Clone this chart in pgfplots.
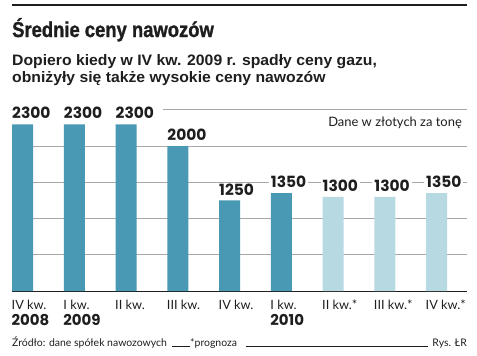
\documentclass[border=0pt]{standalone}
\usepackage{fontspec}
\usepackage{pgfplots}
\pgfplotsset{compat=1.18}
\setmainfont{Lato}
\newfontfamily\titlefont{Liberation Sans}[UprightFont={* Bold}, FakeStretch=0.86, FakeBold=1.2]
\newfontfamily\subfont{Liberation Sans}[UprightFont={* Bold}, FakeStretch=1.04]
\newfontfamily\numfont{Poppins}[UprightFont={* Bold}]
\definecolor{dark}{HTML}{4A99B4}
\definecolor{light}{HTML}{B7D9E2}
\definecolor{gridc}{HTML}{A8A8A8}
\definecolor{txt}{HTML}{1E1E1E}
\begin{document}
\begin{tikzpicture}[x=1bp,y=1bp]
\path[use as bounding box] (0,0) rectangle (477,355);
\fill[txt] (12,348.6) rectangle (467,351.3);
\node[anchor=base west, inner sep=0, text=txt] at (12,318) {\titlefont\fontsize{21.5}{24}\selectfont Średnie ceny nawozów};
\node[anchor=base west, inner sep=0, text=txt] at (12,289.7) {\subfont\fontsize{15.2}{17}\selectfont Dopiero kiedy w IV kw. 2009 r. spadły ceny gazu,};
\node[anchor=base west, inner sep=0, text=txt] at (12,273) {\subfont\fontsize{15.2}{17}\selectfont obniżyły się także wysokie ceny nawozów};
\begin{axis}[
  at={(12bp,64bp)}, anchor=south west, scale only axis,
  width=455bp, height=181.25bp,
  xmin=-0.2029, xmax=8.5894, ymin=0, ymax=2500,
  axis x line*=bottom, axis y line*=left,
  y axis line style={draw=none},
  x axis line style={draw=txt, line width=1bp},
  ytick={500,1000,1500,2000}, yticklabels={},
  ymajorgrids, grid style={gridc, line width=0.9bp},
  ytick style={draw=none}, xtick style={draw=none},
  xtick={0,...,8},
  xticklabels={{IV kw.\\{\numfont\fontsize{15}{16}\selectfont 2008}},
               {I kw.\\{\numfont\fontsize{15}{16}\selectfont 2009}},
               {II kw.},{III kw.},{IV kw.},
               {I kw.\\{\numfont\fontsize{15}{16}\selectfont 2010}},
               {II kw.*},{III kw.*},{IV kw.*}},
  xticklabel style={anchor=north west, align=left, xshift=-11bp, yshift=-4.5bp, inner sep=0,
     font=\fontsize{12.8}{16.5}\selectfont, text=txt},
  ybar, bar width=21bp, bar shift=0pt,
  clip=false,
  /pgf/number format/.cd, 1000 sep={}, assume math mode=true, /pgfplots/.cd,
  nodes near coords,
  every node near coord/.append style={font=\numfont\fontsize{15.5}{18}\selectfont,
     anchor=south west, xshift=-12.5bp, yshift=4bp, fill=white, inner xsep=2bp, inner ysep=1bp, text=txt},
]
\addplot[fill=dark, draw=none] coordinates {(0,2300) (1,2300) (2,2300) (3,2000) (4,1250) (5,1350)};
\addplot[fill=light, draw=none] coordinates {(6,1300) (7,1300) (8,1350)};
\draw[gridc, line width=0.9bp] (axis cs:2.715,2500) -- (axis cs:8.5894,2500);
\end{axis}
\node[anchor=base east, inner sep=0, text=txt] at (462,229) {\fontsize{13}{15}\selectfont Dane w złotych za tonę};
\node[anchor=base west, inner sep=0, text=txt] at (12,8.3) {\fontsize{10.5}{12}\selectfont Źródło: dane spółek nawozowych};
\draw[txt, line width=0.6bp] (172,8.3) -- (190,8.3);
\node[anchor=base west, inner sep=0, text=txt] at (190,8.3) {\fontsize{10.5}{12}\selectfont *prognoza};
\draw[txt, line width=0.6bp] (246,8.3) -- (428,8.3);
\node[anchor=base east, inner sep=0, text=txt] at (467,8.3) {\fontsize{10.5}{12}\selectfont Rys. ŁR};
\end{tikzpicture}
\end{document}
